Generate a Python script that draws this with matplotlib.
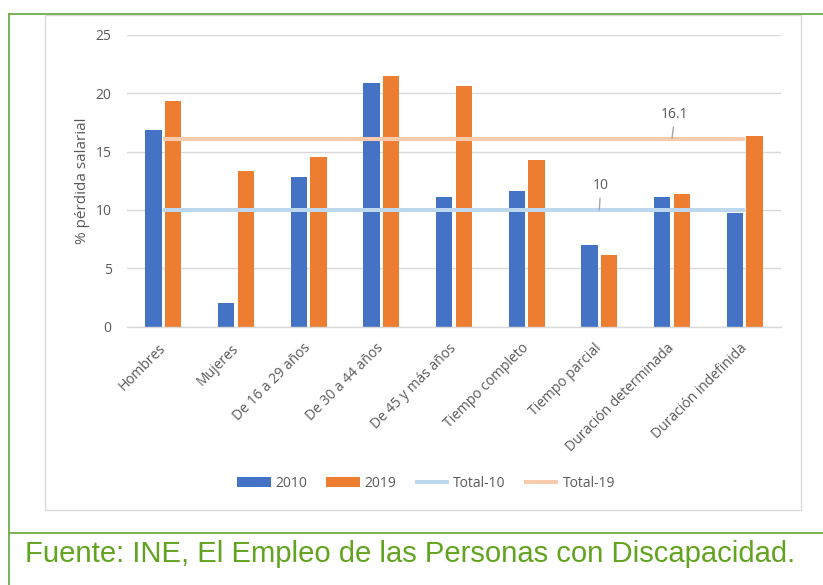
import matplotlib
matplotlib.use("Agg")
import matplotlib.pyplot as plt
import numpy as np
from matplotlib.lines import Line2D
from matplotlib.patches import Rectangle

# Data
categories = ["Hombres", "Mujeres", "De 16 a 29 años", "De 30 a 44 años",
              "De 45 y más años", "Tiempo completo", "Tiempo parcial",
              "Duración determinada", "Duración indefinida"]
values_2010 = [16.8, 2.0, 12.8, 20.9, 11.1, 11.6, 7.0, 11.1, 9.7]
values_2019 = [19.3, 13.3, 14.5, 21.5, 20.6, 14.3, 6.1, 11.4, 16.3]
total_10 = 10
total_19 = 16.1

BLUE = "#4472C4"
ORANGE = "#ED7D31"
LIGHT_BLUE = "#BDD7EE"
LIGHT_ORANGE = "#F8CBAD"
GRID = "#D9D9D9"
TEXT = "#595959"
GREEN_LINE = "#70AD47"
GREEN_TEXT = "#62A31F"

W, H = 823, 585

plt.rcParams["font.family"] = ["Open Sans", "DejaVu Sans"]

fig = plt.figure(figsize=(W / 100, H / 100), dpi=100)


def fx(px):
    return px / W


def fy(py):
    return 1 - py / H


# green frame around the chart and the footer
fig.add_artist(Line2D([fx(8.5), 1], [fy(14), fy(14)], color=GREEN_LINE, lw=1.3))
fig.add_artist(Line2D([fx(8.5), fx(8.5)], [fy(14), 0], color=GREEN_LINE, lw=1.3))
fig.add_artist(Line2D([fx(8.5), 1], [fy(533), fy(533)], color=GREEN_LINE, lw=1.3))

# grey chart-area border
fig.add_artist(Rectangle((fx(44.5), fy(510)), fx(801) - fx(44.5), fy(15) - fy(510),
                         transform=fig.transFigure, fill=False, edgecolor=GRID, lw=1))

ax = fig.add_axes([fx(127), fy(326.7), fx(781) - fx(127), fy(34.7) - fy(326.7)])

x = np.arange(len(categories))
bw = 0.225
b10 = ax.bar(x - 0.137, values_2010, bw, color=BLUE, label="2010", zorder=2)
b19 = ax.bar(x + 0.137, values_2019, bw, color=ORANGE, label="2019", zorder=2)
l10, = ax.plot(x, [total_10] * len(x), color=LIGHT_BLUE, lw=2.9, label="Total-10",
               zorder=3, solid_capstyle="butt")
l19, = ax.plot(x, [total_19] * len(x), color=LIGHT_ORANGE, lw=2.9, label="Total-19",
               zorder=3, solid_capstyle="butt")

ax.annotate(f"{total_19}", xy=(7, total_19), xytext=(7.04, 18.2), ha="center", va="center",
            fontsize=10, color=TEXT,
            arrowprops=dict(arrowstyle="-", color="#A6A6A6", lw=1, shrinkA=2, shrinkB=0))
ax.annotate(f"{total_10}", xy=(6, total_10), xytext=(6.02, 12.13), ha="center", va="center",
            fontsize=10, color=TEXT,
            arrowprops=dict(arrowstyle="-", color="#A6A6A6", lw=1, shrinkA=2, shrinkB=0))

ax.set_xlim(-0.5, len(categories) - 0.5)
ax.set_ylim(0, 25)
ax.set_yticks([0, 5, 10, 15, 20, 25])
ax.grid(axis="y", color=GRID, lw=1, zorder=0)
ax.set_axisbelow(True)
for side in ["top", "right", "left"]:
    ax.spines[side].set_visible(False)
ax.spines["bottom"].set_color(GRID)
ax.spines["bottom"].set_linewidth(1)

ax.set_xticks(x)
ax.set_xticklabels(categories, rotation=45, ha="right", va="center",
                   rotation_mode="anchor", fontsize=10, color=TEXT)
ax.tick_params(axis="x", length=0, pad=14)
ax.tick_params(axis="y", length=0, pad=11, labelsize=10, labelcolor=TEXT)
ax.set_ylabel("% pérdida salarial", fontsize=11, color=TEXT, labelpad=4)

fig.legend([b10, b19, l10, l19], ["2010", "2019", "Total-10", "Total-19"],
           loc="center", bbox_to_anchor=(fx(426), fy(483.7)), ncol=4, frameon=False,
           fontsize=10, labelcolor=TEXT, handlelength=2.45, handletextpad=0.3,
           columnspacing=1.35, borderpad=0)

fig.text(fx(25), fy(562), "Fuente: INE, El Empleo de las Personas con Discapacidad.",
         fontsize=21.1, color=GREEN_TEXT, family="Liberation Sans", va="baseline")

fig.savefig("out.png", dpi=100)
